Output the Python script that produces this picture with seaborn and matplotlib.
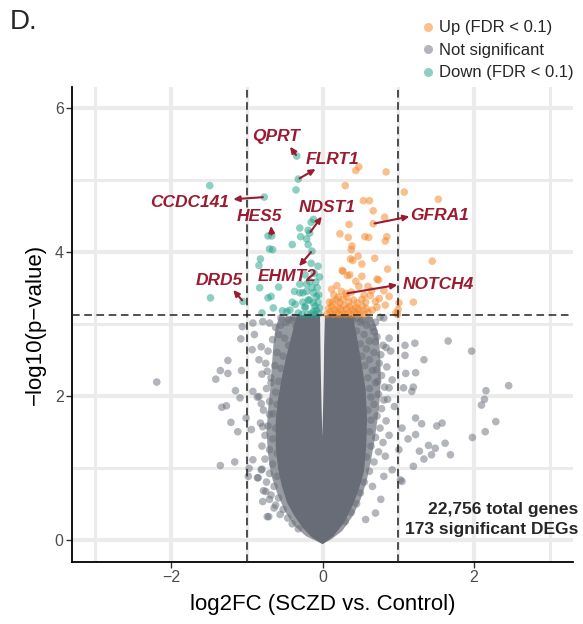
import numpy as np
import pandas as pd
import matplotlib
matplotlib.use("Agg")
import matplotlib.pyplot as plt
import seaborn as sns
from matplotlib.lines import Line2D

# ---------------- data ----------------
up_x = [0.48, 0.44, 0.84, 0.30, 1.08, 1.53, 0.54, 0.62, 0.35, 0.23, 0.67, 0.56, 0.61, 0.34, 0.85,
        0.83, 0.39, 0.38, 0.47, 0.37, 0.52, 0.26, 0.86, 0.33, 0.52, 0.19, 0.44, 0.72, 0.25, 0.48,
        0.60, 0.81, 0.09, 0.63, 0.88, 1.01, 1.20, 0.83, 0.97, 1.45, 0.31, 0.67, 0.82, 0.40, 0.69,
        0.27, 0.36, 0.74,
        0.06, 0.10, 0.14, 0.18, 0.22, 0.26, 0.30, 0.34, 0.38, 0.42, 0.46, 0.50, 0.55, 0.60,
        0.08, 0.12, 0.16, 0.20, 0.24, 0.28, 0.32, 0.36, 0.40, 0.44, 0.48, 0.53, 0.58, 0.66, 0.72,
        0.13, 0.18, 0.23, 0.27, 0.35, 0.41, 0.46, 0.52, 0.57, 0.70, 0.15, 0.21, 0.32, 0.38, 0.55,
        0.65, 0.12, 0.75, 1.00, 0.99]
up_y = [5.18, 5.13, 5.11, 4.92, 4.83, 4.73, 4.71, 4.71, 4.38, 4.25, 4.39, 4.21, 4.20, 4.20, 4.21,
        4.15, 4.08, 4.03, 3.94, 3.90, 3.83, 3.74, 3.76, 3.67, 3.66, 3.53, 3.59, 3.62, 3.45, 3.52,
        3.52, 3.46, 3.30, 3.39, 3.38, 3.29, 3.30, 3.26, 3.15, 3.87, 3.42, 4.57, 4.48, 3.88, 3.91,
        3.73, 3.68, 3.61,
        3.13, 3.16, 3.13, 3.15, 3.13, 3.16, 3.13, 3.15, 3.13, 3.16, 3.13, 3.15, 3.13, 3.16,
        3.21, 3.24, 3.20, 3.23, 3.20, 3.25, 3.21, 3.24, 3.20, 3.23, 3.20, 3.24, 3.21, 3.19, 3.23,
        3.30, 3.33, 3.29, 3.34, 3.30, 3.33, 3.29, 3.34, 3.30, 3.31, 3.40, 3.37, 3.38, 3.44, 3.40,
        3.46, 3.48, 3.35, 3.20, 3.13]

down_x = [-0.34, -0.32, -0.35, -1.49, -0.77, -0.72, -0.67, -0.70, -0.66, -0.82, -0.84, -0.12,
          -0.15, -0.30, -0.19, -0.29, -0.21, -0.17, -0.19, -0.40, -0.14, -0.15, -0.23, -0.17,
          -0.83, -0.58, -0.68, -0.72, -1.48, -1.05, -0.80, -0.65, -0.53, -0.43, -0.37, -0.30,
          -0.21, -0.12, -0.19, -0.12, -0.08, -0.23, -0.08, -0.47, -0.32, -0.26, -0.17, -0.10,
          -0.23, -0.12, -0.05, -0.04, -0.06, -0.05, -0.07, -0.10, -0.15, -0.20, -0.27, -0.14,
          -0.09, -0.04, -0.11, -0.06, -0.21, -0.26, -0.36, -0.40, -0.30]
down_y = [5.33, 5.01, 4.86, 4.92, 4.76, 4.22, 4.22, 4.04, 4.03, 3.90, 3.81, 4.45,
          4.41, 4.33, 4.30, 4.21, 4.18, 4.26, 4.10, 4.10, 4.01, 3.84, 3.68, 3.59,
          3.50, 3.51, 3.38, 3.36, 3.36, 3.31, 3.15, 3.22, 3.18, 3.19, 3.45, 3.43,
          3.45, 3.43, 3.33, 3.29, 3.38, 3.24, 3.19, 3.17, 3.15, 3.43, 3.33, 3.24,
          3.22, 3.17, 3.14, 3.22, 3.30, 3.40, 3.50, 3.13, 3.14, 3.13, 3.13, 3.50,
          3.58, 3.65, 3.70, 3.80, 3.55, 3.30, 3.27, 3.30, 3.55]

ns_x = [-2.19, -1.25, -1.35, -1.41, -1.25, -1.07, -1.15, -1.09, -1.33, -1.27, -1.21, -1.12, -1.35,
        -1.16, -1.06, -1.08, -1.01, -0.98, -0.92, -0.92, -0.81, -0.81, -0.70, -0.94, -0.79, -0.85,
        -0.79, -0.71, -0.79, -0.70, -0.90, -0.93, -0.84, -0.73, -0.68, -0.84,
        1.66, 1.97, 2.46, 2.16, 2.14, 2.10, 2.29, 2.15, 1.98, 1.69, 1.62, 1.58, 1.51, 1.49, 1.44,
        1.34, 1.28, 1.40, 1.23, 1.23, 1.31, 1.13, 1.20, 1.22, 1.09, 1.34, 1.23, 1.10, 1.20, 1.18,
        1.07, 1.05, 1.05, 1.09, 0.61, 0.81, 0.68, 0.88, 0.70, 0.84, 0.77, 0.71, 0.73, 0.88, 0.81,
        -0.62, -0.55, -0.48, -0.40, -0.35, -0.58, -0.66, -0.50, -0.45, -0.72, -0.60, -0.52, -0.75,
        -0.63, -0.55, -0.80, -0.68, -0.58, -0.74, -0.62, -0.86, -0.70, -0.60, -0.78, -0.65, -0.82,
        -0.72, -0.62, -0.76, -0.66, -0.80, -0.70, -0.60, -0.76, -0.66, -0.80, -0.70, -0.60, -0.74,
        -0.64, -0.78, -0.68, -0.58, -0.62, -0.52, -0.56, -0.46, -0.40, -0.32,
        -0.73, -0.64, -0.70, -0.75, -0.81, -0.92, -0.86, -0.97,
        0.77, 0.66, 0.81, 0.92, 1.03, 0.83, 1.01, 0.70, 0.57,
        0.40, 0.50, 0.58, 0.66, 0.45, 0.55, 0.72, 0.62, 0.50, 0.80, 0.58, 0.68, 0.90, 0.52, 0.62,
        0.75, 0.85, 0.56, 0.66, 0.78, 0.60, 0.70, 0.92, 0.82, 0.62, 0.74, 0.64, 0.86, 0.68, 0.78,
        0.60, 0.95, 0.72, 0.64, 0.84, 0.76, 0.62, 0.70, 0.88, 0.80, 0.64, 0.74, 0.58, 0.68, 0.62,
        0.55, 0.50, 0.45, 0.38, 0.30,
        -0.55, -0.45, -0.38, -0.30, 0.30, 0.36, 0.45, 0.52, 0.70, 0.76]
ns_y = [2.19, 2.49, 2.35, 2.23, 2.31, 2.35, 2.07, 1.97, 1.84, 1.86, 1.63, 1.50, 1.03,
        1.08, 2.96, 2.79, 1.69, 0.88, 3.01, 2.06, 1.89, 2.68, 1.74, 1.53, 1.57, 0.86,
        0.53, 0.32, 3.03, 3.01, 2.85, 2.64, 2.50, 2.34, 2.18, 1.99,
        2.76, 2.62, 2.14, 2.07, 1.95, 1.87, 1.64, 1.50, 1.42, 1.18, 1.34, 1.62, 1.58, 1.27, 1.18,
        1.12, 1.23, 1.31, 1.46, 1.69, 1.61, 1.40, 1.02, 2.73, 2.70, 2.50, 2.32, 2.31, 2.12, 2.06,
        2.11, 1.55, 0.81, 2.56, 3.06, 3.08, 2.89, 2.80, 2.75, 2.67, 2.57, 2.36, 2.20, 2.11, 1.94,
        2.95, 2.98, 3.02, 3.05, 2.97, 2.85, 2.78, 2.80, 2.70, 2.62, 2.60, 2.55, 2.45,
        2.42, 2.38, 2.30, 2.25, 2.20, 2.10, 2.05, 1.98, 1.92, 1.88, 1.80, 1.75, 1.62,
        1.58, 1.55, 1.45, 1.40, 1.30, 1.25, 1.20, 1.12, 1.05, 0.98, 0.92, 0.88, 0.80,
        0.74, 0.68, 0.62, 0.58, 0.48, 0.42, 0.35, 0.30, 0.22, 0.15,
        0.32, 0.44, 0.56, 0.67, 0.97, 1.11, 0.86, 0.99,
        0.56, 0.74, 0.88, 0.97, 0.83, 1.16, 1.25, 0.37, 0.28,
        3.05, 3.02, 2.98, 2.95, 2.90, 2.85, 2.82, 2.76, 2.72, 2.70, 2.65, 2.60, 2.62, 2.55, 2.50,
        2.45, 2.40, 2.42, 2.35, 2.28, 2.25, 2.18, 2.22, 2.12, 2.10, 2.02, 1.98, 1.95, 1.88, 1.82,
        1.80, 1.85, 1.72, 1.66, 1.65, 1.55, 1.50, 1.42, 1.45, 1.35, 1.30, 1.22, 1.15, 1.08, 0.95,
        0.80, 0.65, 0.50, 0.38, 0.25,
        3.08, 3.06, 3.09, 3.05, 3.07, 3.03, 3.08, 3.05, 3.02, 3.09]

# outline of the saturated (fully overlapping) non-significant core
core_x = [0.00, -0.13, -0.25, -0.36, -0.45, -0.52, -0.57, -0.60, -0.60, -0.57, -0.52, -0.47,
          -0.41, -0.35, -0.32, -0.05, -0.045, -0.04, -0.03, -0.02, 0.00, 0.015, 0.025, 0.035, 0.04,
          0.05, 0.38, 0.43, 0.49, 0.55, 0.57, 0.56, 0.53, 0.46, 0.39, 0.27, 0.13]
core_y = [-0.04, 0.05, 0.18, 0.35, 0.52, 0.75, 1.00, 1.30, 1.65, 1.95, 2.25, 2.50,
          2.75, 3.00, 3.10, 3.10, 2.70, 2.30, 1.80, 1.40, 0.93, 1.40, 1.80, 2.30, 2.70,
          3.10, 3.10, 2.85, 2.50, 2.10, 1.70, 1.30, 0.95, 0.70, 0.50, 0.25, 0.06]

# outline of the partly overlapping halo around the core
halo_x = [0.00, -0.22, -0.38, -0.50, -0.60, -0.68, -0.72, -0.74, -0.72, -0.69, -0.67, -0.65,
          -0.62, -0.57, -0.05, 0.00, 0.05, 0.66, 0.73, 0.76, 0.77, 0.76, 0.73, 0.69, 0.64,
          0.58, 0.50, 0.40, 0.26, 0.11]
halo_y = [-0.06, 0.05, 0.20, 0.40, 0.65, 0.90, 1.20, 1.50, 1.80, 2.10, 2.40, 2.70,
          2.95, 3.10, 3.10, 0.93, 3.10, 3.10, 2.90, 2.60, 2.30, 2.00, 1.70, 1.40, 1.10,
          0.80, 0.55, 0.33, 0.12, 0.00]

genes = ["QPRT", "FLRT1", "CCDC141", "HES5", "NDST1", "GFRA1", "EHMT2", "DRD5", "NOTCH4"]
gene_x = [-0.34, -0.32, -0.77, -0.67, -0.17, 0.67, -0.14, -1.05, 0.31]
gene_y = [5.33, 5.01, 4.76, 4.22, 4.26, 4.39, 4.01, 3.31, 3.42]

fdr_line = 3.115
fc_lines = [-1, 1]
total_genes = "22,756 total genes"
sig_genes = "173 significant DEGs"

# label layout (text centre, arrow head), data units
label_pos = {"QPRT": (-0.61, 5.60, -0.43, 5.46), "FLRT1": (0.13, 5.28, -0.09, 5.15),
             "CCDC141": (-1.76, 4.68, -1.18, 4.73), "HES5": (-0.83, 4.49, -0.68, 4.36),
             "NDST1": (0.06, 4.61, -0.01, 4.49), "GFRA1": (1.55, 4.51, 1.15, 4.49),
             "EHMT2": (-0.47, 3.65, -0.31, 3.80), "DRD5": (-1.37, 3.60, -1.18, 3.47),
             "NOTCH4": (1.53, 3.54, 0.99, 3.54)}

# ---------------- styling ----------------
sns.set_theme(style="white")
plt.rcParams['font.family'] = ['Liberation Sans', 'DejaVu Sans']

c_up, c_ns, c_down = "#F58220", "#676C77", "#1FA18B"
lab_col = "#9B1B30"

df = pd.concat([
    pd.DataFrame({"log2FC": ns_x, "nlp": ns_y, "status": "Not significant"}),
    pd.DataFrame({"log2FC": down_x, "nlp": down_y, "status": "Down (FDR < 0.1)"}),
    pd.DataFrame({"log2FC": up_x, "nlp": up_y, "status": "Up (FDR < 0.1)"}),
], ignore_index=True)
palette = {"Up (FDR < 0.1)": c_up, "Not significant": c_ns, "Down (FDR < 0.1)": c_down}

fig = plt.figure(figsize=(5.83, 6.24), dpi=100)
ax = fig.add_axes([0.1235, 0.0994, 0.8594, 0.7612])
ax.set_xlim(-3.31, 3.31)
ax.set_ylim(-0.31, 6.29)

ax.set_xticks([-2, 0, 2])
ax.set_xticks([-3, -1, 1, 3], minor=True)
ax.set_yticks([0, 2, 4, 6])
ax.set_yticks([1, 3, 5], minor=True)
ax.grid(which='major', color='#EBEBEB', lw=3.0, zorder=0)
ax.grid(which='minor', color='#EBEBEB', lw=2.2, zorder=0)
ax.set_axisbelow(True)

ax.fill(halo_x, halo_y, color=c_ns, alpha=0.68, lw=0, zorder=1)
ax.fill(core_x, core_y, color=c_ns, ec=c_ns, lw=2.0, joinstyle='round', zorder=1.5)

sns.scatterplot(data=df, x="log2FC", y="nlp", hue="status", palette=palette, s=30,
                alpha=0.5, edgecolor='none', linewidth=0, legend=False, ax=ax, zorder=2)

ax.axhline(fdr_line, color='#222222', ls=(0, (5, 3)), lw=1.1, zorder=3)
for v in fc_lines:
    ax.axvline(v, color='#222222', ls=(0, (5, 3)), lw=1.1, zorder=3)

for g, gx, gy in zip(genes, gene_x, gene_y):
    tx, ty, hx, hy = label_pos[g]
    ax.annotate("", xy=(hx, hy), xytext=(gx, gy),
                arrowprops=dict(arrowstyle='-|>,head_length=0.3,head_width=0.14',
                                color=lab_col, lw=1.5, shrinkA=1, shrinkB=0), zorder=4)
    ax.text(tx, ty, g, color=lab_col, fontsize=12.5, fontweight='bold', fontstyle='italic',
            ha='center', va='center', zorder=5)

for s in ['top', 'right']:
    ax.spines[s].set_visible(False)
for s in ['left', 'bottom']:
    ax.spines[s].set_color('black')
    ax.spines[s].set_linewidth(1.3)
ax.tick_params(which='major', length=4, width=1, color='#333333', labelsize=11.5,
               labelcolor='#4D4D4D', direction='out', left=True, bottom=True, pad=2)
ax.tick_params(which='minor', length=0)

ax.set_xlabel("log2FC (SCZD vs. Control)", fontsize=16, color='black', labelpad=6)
ax.set_ylabel("\u2212log10(p\u2212value)", fontsize=16, color='black', labelpad=6)

fig.text(0.017, 0.965, "D.", fontsize=20, va='center', ha='left')

handles = [Line2D([], [], marker='o', ls='', color=palette[k], alpha=0.5, markersize=6.5,
                  markeredgewidth=0) for k in ["Up (FDR < 0.1)", "Not significant", "Down (FDR < 0.1)"]]
fig.legend(handles, ["Up (FDR < 0.1)", "Not significant", "Down (FDR < 0.1)"],
           loc='upper left', bbox_to_anchor=(0.705, 0.978), frameon=False, fontsize=12,
           handletextpad=0.05, labelspacing=0.45, handlelength=1.2, borderaxespad=0)

fig.text(0.9914, 0.184, total_genes, fontsize=12.5, fontweight='bold', ha='right', va='center')
fig.text(0.9914, 0.152, sig_genes, fontsize=12.5, fontweight='bold', ha='right', va='center')

fig.savefig("out.png", dpi=100)
